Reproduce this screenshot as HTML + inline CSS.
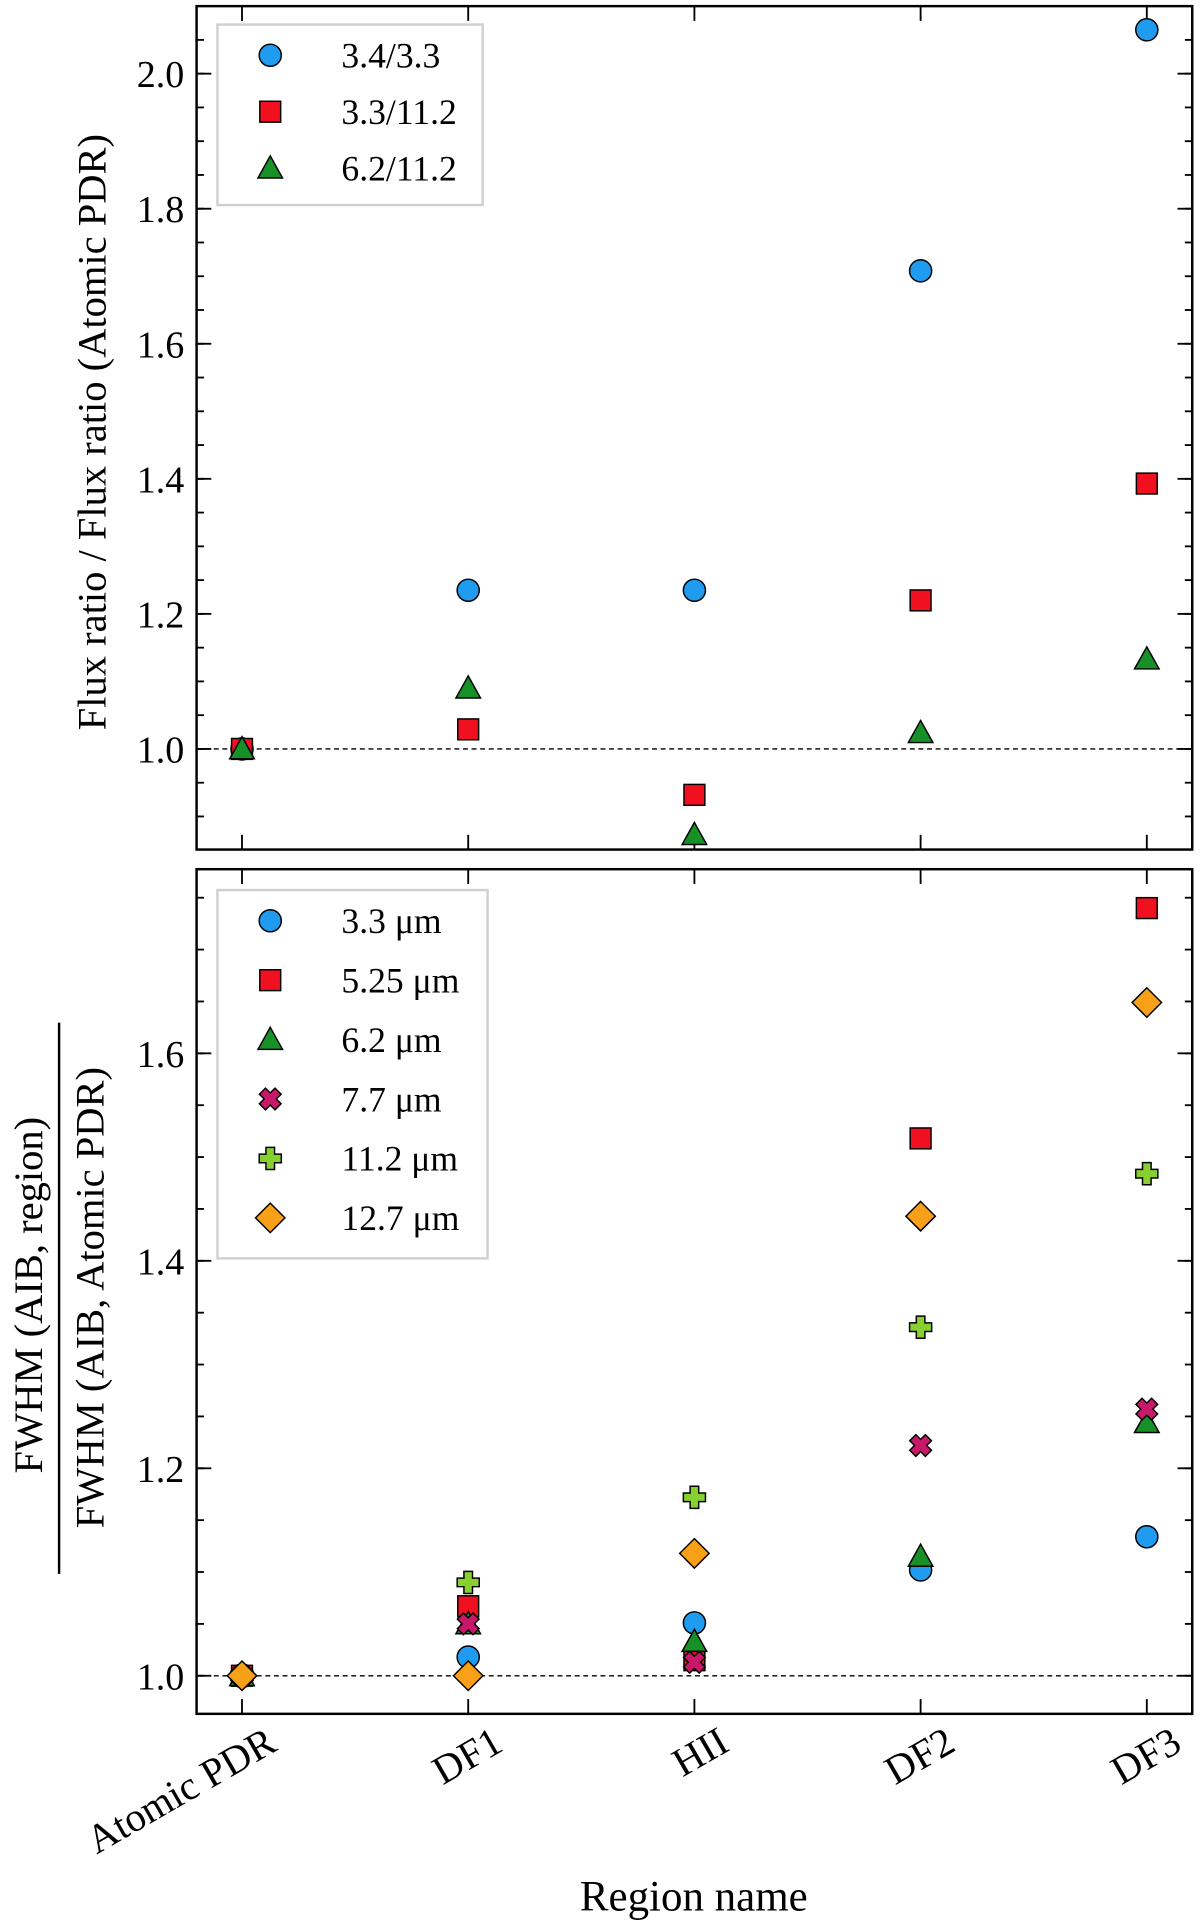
<!DOCTYPE html>
<html><head><meta charset="utf-8"><style>
html,body{margin:0;padding:0;background:#fff}
svg{display:block;font-family:"Liberation Serif",serif}
</style></head><body>
<svg id="fig" width="1200" height="1925" viewBox="0 0 977.2 1568" xmlns="http://www.w3.org/2000/svg"></svg>
<script>
const categories = ["Atomic PDR","DF1","HII","DF2","DF3"];
const topSeriesNames = ["3.4/3.3","3.3/11.2","6.2/11.2"];
const top34_33 = [1.0,1.235,1.235,1.708,2.065];
const top33_112 = [1.0,1.029,0.932,1.22,1.393];
const top62_112 = [1.0,1.09,0.873,1.024,1.133];
const botSeriesNames = ["3.3 μm","5.25 μm","6.2 μm","7.7 μm","11.2 μm","12.7 μm"];
const bot33 = [1.0,1.018,1.051,1.102,1.134];
const bot525 = [1.0,1.067,1.015,1.518,1.740];
const bot62 = [1.0,1.05,1.033,1.115,1.244];
const bot77 = [1.0,1.050,1.013,1.222,1.257];
const bot112 = [1.0,1.09,1.172,1.336,1.484];
const bot127 = [1.0,1.0,1.118,1.443,1.649];
const topTicks = [1.0,1.2,1.4,1.6,1.8,2.0];
const botTicks = [1.0,1.2,1.4,1.6];

const NS="http://www.w3.org/2000/svg";
const svg=document.getElementById('fig');
function el(tag,attrs,parent){const e=document.createElementNS(NS,tag);for(const k in attrs)e.setAttribute(k,attrs[k]);(parent||svg).appendChild(e);return e;}
const L=160,R=971;
const xScale=i=>197+i*184.25;
const topP={t:5,b:692,y0:0.851,y1:2.1};
const botP={t:708,b:1396,y0:0.9633,y1:1.7775};
function ys(p,v){return p.b-(v-p.y0)/(p.y1-p.y0)*(p.b-p.t);}

function marker(type,x,y,color,g){
  const a={fill:color,stroke:'#000','stroke-width':1.2};
  let e;
  if(type==='o'){e=el('circle',Object.assign({cx:x,cy:y,r:9},a),g);}
  else if(type==='s'){e=el('rect',Object.assign({x:x-8.5,y:y-8.5,width:17,height:17},a),g);}
  else if(type==='^'){e=el('polygon',Object.assign({points:`${x},${y-10} ${x+10},${y+8} ${x-10},${y+8}`},a),g);}
  else if(type==='d'){e=el('polygon',Object.assign({points:`${x},${y-12} ${x+12},${y} ${x},${y+12} ${x-12},${y}`},a),g);}
  else if(type==='P'){const w=3.5,h=9;e=el('polygon',Object.assign({points:`${x-w},${y-h} ${x+w},${y-h} ${x+w},${y-w} ${x+h},${y-w} ${x+h},${y+w} ${x+w},${y+w} ${x+w},${y+h} ${x-w},${y+h} ${x-w},${y+w} ${x-h},${y+w} ${x-h},${y-w} ${x-w},${y-w}`},a),g);}
  else if(type==='X'){const w=3.5,h=9;const pts=[[-w,-h],[w,-h],[w,-w],[h,-w],[h,w],[w,w],[w,h],[-w,h],[-w,w],[-h,w],[-h,-w],[-w,-w]].map(([px,py])=>{const c=Math.SQRT1_2;return `${x+(px-py)*c},${y+(px+py)*c}`;}).join(' ');e=el('polygon',Object.assign({points:pts},a),g);}
  return e;
}

function axes(p,ticks,name){
  const g=el('g',{});
  
  
  const dl=el('line',{x1:L,x2:R,y1:ys(p,1),y2:ys(p,1),stroke:'#000','stroke-width':1.1,'stroke-dasharray':'4,3'},g);
  
  
  for(let v=Math.ceil(p.y0*20)/20;v<=p.y1+1e-9;v+=0.05){
    const y=ys(p,v);
    el('line',{x1:L,x2:L+6,y1:y,y2:y,stroke:'#000','stroke-width':1.5},g);
    el('line',{x1:R,x2:R-6,y1:y,y2:y,stroke:'#000','stroke-width':1.5},g);
  }
  ticks.forEach(v=>{
    const y=ys(p,v);
    el('line',{x1:L,x2:L+12,y1:y,y2:y,stroke:'#000','stroke-width':1.5},g);
    el('line',{x1:R,x2:R-12,y1:y,y2:y,stroke:'#000','stroke-width':1.5},g);
    const t=el('text',{x:L-10,y:y+11,'text-anchor':'end','font-size':31},g);
    t.textContent=v.toFixed(1);
    
    
  });
  categories.forEach((c,i)=>{
    const x=xScale(i);
    el('line',{x1:x,x2:x,y1:p.b,y2:p.b-12,stroke:'#000','stroke-width':1.5},g);
    el('line',{x1:x,x2:x,y1:p.t,y2:p.t+12,stroke:'#000','stroke-width':1.5},g);
  });
  const fr=el('rect',{x:L,y:p.t,width:R-L,height:p.b-p.t,fill:'none',stroke:'#000','stroke-width':2},g);
  
  
}
axes(topP,topTicks,'top');
axes(botP,botTicks,'bottom');

function series(p,vals,type,color,name){
  const g=el('g',{});
  
  
  vals.forEach((v,i)=>{const m=marker(type,xScale(i),ys(p,v),color,g);
    
    });
}
const topTypes=[['o','#1f9cf0'],['s','#f01020'],['^','#189028']];
[top34_33,top33_112,top62_112].forEach((s,k)=>series(topP,s,topTypes[k][0],topTypes[k][1],'series-top-'+k));
const botTypes=[['o','#1f9cf0'],['s','#f01020'],['^','#189028'],['X','#c8186a'],['P','#88d030'],['d','#f8a018']];
[bot33,bot525,bot62,bot77,bot112,bot127].forEach((s,k)=>series(botP,s,botTypes[k][0],botTypes[k][1],'series-bottom-'+k));

function legend(x,y,w,h,names,types,ys0,dy,name){
  const g=el('g',{});
  
  
  el('rect',{x,y,width:w,height:h,fill:'#fff',stroke:'#d0d0d0','stroke-width':2},g);
  names.forEach((n,i)=>{
    const yy=ys0+i*dy;
    marker(types[i][0],220,yy,types[i][1],g);
    const t=el('text',{x:278,y:yy+10,'font-size':29},g);
    t.textContent=n;
    
    
  });
}
legend(177,20,216,147,topSeriesNames,topTypes,45,46,'top-legend');
legend(177,725,220,300,botSeriesNames,botTypes,750,48.4,'bottom-legend');

categories.forEach((c,i)=>{
  const x=xScale(i)+30,y=1425;
  const t=el('text',{x,y,'text-anchor':'end','font-size':33,transform:`rotate(-30 ${x} ${y})`});
  t.textContent=c;
  
  
});
let t=el('text',{x:565,y:1556,'text-anchor':'middle','font-size':35});
t.textContent='Region name';


t=el('text',{x:86,y:352,'text-anchor':'middle','font-size':33,transform:'rotate(-90 86 352)'});
t.textContent='Flux ratio / Flux ratio (Atomic PDR)';


t=el('text',{x:34,y:1055,'text-anchor':'middle','font-size':33,transform:'rotate(-90 34 1055)'});
t.textContent='FWHM (AIB, region)';


const fl=el('line',{x1:48,x2:48,y1:833,y2:1282,stroke:'#000','stroke-width':2});


t=el('text',{x:84,y:1057,'text-anchor':'middle','font-size':33,transform:'rotate(-90 84 1057)'});
t.textContent='FWHM (AIB, Atomic PDR)';


</script>
</body></html>
